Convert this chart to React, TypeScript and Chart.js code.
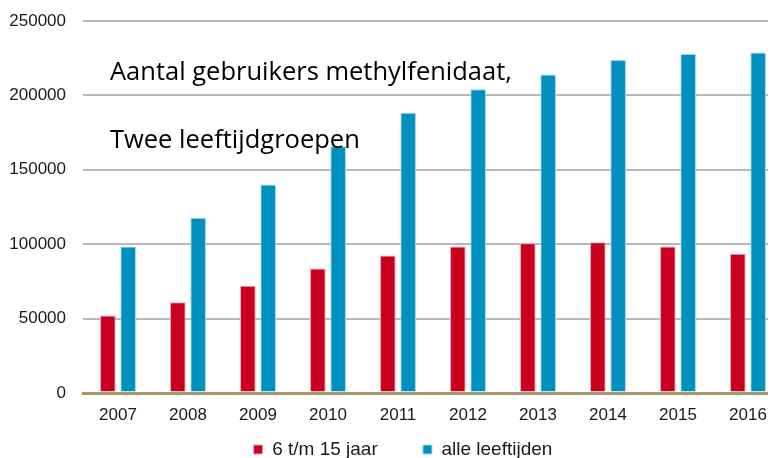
import React, { useEffect, useRef } from "react";
import { Chart, registerables } from "chart.js";

Chart.register(...registerables);

const years = ["2007", "2008", "2009", "2010", "2011", "2012", "2013", "2014", "2015", "2016"];
const kinderen = [52000, 61000, 72000, 83600, 92400, 98500, 100700, 101300, 98500, 93500];
const alle = [98500, 117800, 140200, 165900, 188400, 204100, 214000, 223800, 227900, 228800];
const seriesNames = ["6 t/m 15 jaar", "alle leeftijden"];
const titleLines = ["Aantal gebruikers methylfenidaat,", "Twee leeftijdgroepen"];

const RED = "#c8001e";
const BLUE = "#0090bf";
const AXIS = "#a8996c";
const TICK_FONT = { family: '"Liberation Sans", Arial', size: 17 };

export default function App() {
  const ref = useRef<HTMLCanvasElement | null>(null);

  useEffect(() => {
    let chart: Chart | null = null;
    let cancelled = false;
    const titlePlugin = {
      id: "overlayTitle",
      afterDraw(c: any) {
        const ctx = c.ctx;
        ctx.save();
        ctx.font = '25.5px "Open Sans"';
        ctx.fillStyle = "#000";
        ctx.textBaseline = "alphabetic";
        ctx.textAlign = "left";
        ctx.fillText(titleLines[0], 102, 72);
        ctx.fillText(titleLines[1], 102, 140);
        ctx.restore();
      },
    };
    const make = () => {
      if (cancelled || !ref.current) return;
      chart = new Chart(ref.current, {
        type: "bar",
        data: {
          labels: years,
          datasets: [
            {
              label: seriesNames[0] + "        ",
              data: kinderen,
              backgroundColor: RED,
              borderColor: "#eaa4ad",
              borderWidth: 1,
              categoryPercentage: 0.58,
              barPercentage: 0.77,
            },
            {
              label: seriesNames[1],
              data: alle,
              backgroundColor: BLUE,
              borderColor: "#9fd6ea",
              borderWidth: 1,
              categoryPercentage: 0.58,
              barPercentage: 0.77,
            },
          ],
        },
        options: {
          responsive: false,
          animation: false,
          devicePixelRatio: 1,
          layout: { padding: { left: 0, right: 0, top: 13, bottom: 0 } },
          plugins: {
            legend: {
              position: "bottom",
              labels: {
                boxWidth: 9,
                boxHeight: 9,
                padding: 3,
                color: "#1a1a1a",
                font: { family: '"Liberation Sans", Arial', size: 19 },
              },
            },
            title: { display: false },
            tooltip: { enabled: false },
          },
          scales: {
            x: {
              grid: { display: false, drawTicks: false },
              border: { display: true, color: AXIS, width: 3 },
              ticks: {
                padding: 13.5,
                color: "#1a1a1a",
                font: { ...TICK_FONT, lineHeight: 1 },
              },
            },
            y: {
              min: 0,
              max: 250000,
              afterFit: (s: any) => {
                s.width = 75;
                s.paddingTop = 0;
                s.paddingBottom = 0;
              },
              border: { display: false },
              grid: {
                drawTicks: false,
                color: (ctx: any) => (ctx.tick && ctx.tick.value === 0 ? AXIS : "#b8b8b8"),
                lineWidth: (ctx: any) => (ctx.tick && ctx.tick.value === 0 ? 3 : 2),
              },
              ticks: {
                stepSize: 50000,
                padding: 17,
                color: "#1a1a1a",
                font: TICK_FONT,
                callback: (v: any) => String(v),
              },
            },
            spacer: {
              type: "linear",
              position: "right",
              display: true,
              afterFit: (s: any) => {
                s.width = 15;
                s.paddingTop = 0;
                s.paddingBottom = 0;
              },
              border: { display: false },
              grid: { display: false, drawTicks: false },
              ticks: { display: false },
            },
          },
        },
        plugins: [titlePlugin],
      });
    };
    if ((document as any).fonts && (document as any).fonts.load) {
      Promise.all([
        (document as any).fonts.load('25.5px "Open Sans"'),
        (document as any).fonts.load('16px "Liberation Sans"'),
      ])
        .catch(() => null)
        .then(make);
    } else {
      make();
    }
    return () => {
      cancelled = true;
      if (chart) chart.destroy();
    };
  }, []);

  return (
    <div style={{ width: 768, height: 450, overflow: "hidden", position: "relative" }}>
      <canvas ref={ref} width={790} height={461} style={{ display: "block" }} />
    </div>
  );
}
